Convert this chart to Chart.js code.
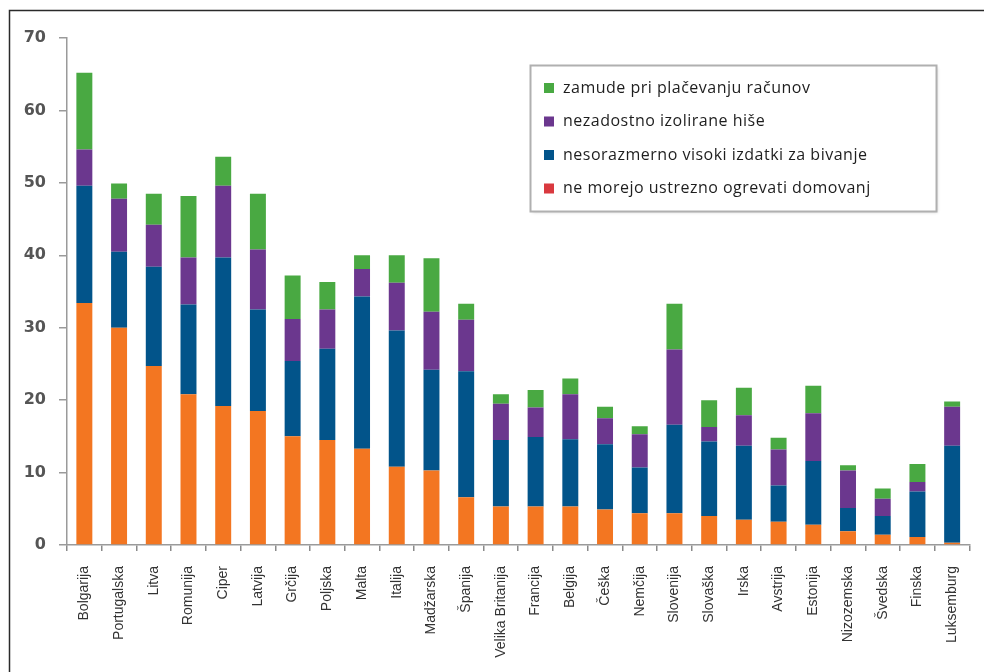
<!DOCTYPE html>
<html>
<head>
<meta charset="utf-8">
<script src="https://cdn.jsdelivr.net/npm/chart.js@4/dist/chart.umd.min.js"></script>
<style>
  html, body { margin: 0; padding: 0; background: #fff; }
  #wrap { position: relative; width: 984px; height: 672px; }
</style>
</head>
<body>
<div id="wrap"><canvas id="c" width="984" height="672"></canvas></div>
<script>
// Države (kategorije na osi x)
const drzave = ['Bolgarija', 'Portugalska', 'Litva', 'Romunija', 'Ciper', 'Latvija', 'Grčija',
  'Poljska', 'Malta', 'Italija', 'Madžarska', 'Španija', 'Velika Britanija', 'Francija',
  'Belgija', 'Češka', 'Nemčija', 'Slovenija', 'Slovaška', 'Irska', 'Avstrija', 'Estonija',
  'Nizozemska', 'Švedska', 'Finska', 'Luksemburg'];

// Deleži gospodinjstev (%), zloženi od spodaj navzgor
const neOgrevajo = [33.4, 30.0, 24.7, 20.8, 19.2, 18.5, 15.0, 14.5, 13.3, 10.8, 10.3, 6.6, 5.3,
  5.3, 5.3, 4.9, 4.4, 4.4, 4.0, 3.5, 3.2, 2.8, 1.9, 1.4, 1.1, 0.3];
const visokiIzdatki = [16.2, 10.5, 13.7, 12.4, 20.5, 14.0, 10.4, 12.6, 21.0, 18.8, 13.9, 17.4, 9.2,
  9.6, 9.3, 9.0, 6.3, 12.2, 10.3, 10.2, 5.0, 8.8, 3.2, 2.6, 6.3, 13.4];
const slaboIzolirane = [5.0, 7.3, 5.8, 6.5, 9.9, 8.3, 5.8, 5.4, 3.8, 6.6, 8.0, 7.1, 5.0,
  4.1, 6.2, 3.6, 4.6, 10.4, 2.0, 4.2, 5.0, 6.6, 5.2, 2.4, 1.3, 5.4];
const zamudePlacil = [10.6, 2.1, 4.3, 8.5, 4.0, 7.7, 6.0, 3.8, 1.9, 3.8, 7.4, 2.2, 1.3,
  2.4, 2.2, 1.6, 1.1, 6.3, 3.7, 3.8, 1.6, 3.8, 0.7, 1.4, 2.5, 0.7];

// Oznake serij
const oznake = ['ne morejo ustrezno ogrevati domovanj', 'nesorazmerno visoki izdatki za bivanje',
  'nezadostno izolirane hiše', 'zamude pri plačevanju računov'];

// Oznake na osi y
const yOznake = [0, 10, 20, 30, 40, 50, 60, 70];

const barve = ['#f37621', '#02548a', '#6b378e', '#49a942'];
const barveLegende = ['#d9393f', '#02548a', '#6b378e', '#49a942'];

// Okvir slike in legenda v pravokotniku
const okvirInLegenda = {
  id: 'okvirInLegenda',
  afterDraw(chart) {
    const ctx = chart.ctx;
    ctx.save();
    ctx.strokeStyle = '#2a2a2a';
    ctx.lineWidth = 1.5;
    ctx.strokeRect(9.5, 10.5, 1010, 700);

    const bx = 530.5, by = 65.5, bw = 406, bh = 146;
    ctx.shadowColor = 'rgba(0,0,0,0.18)';
    ctx.shadowBlur = 3;
    ctx.shadowOffsetX = 1;
    ctx.shadowOffsetY = 1;
    ctx.fillStyle = '#fff';
    ctx.fillRect(bx, by, bw, bh);
    ctx.shadowColor = 'transparent';
    ctx.strokeStyle = '#b0b0b0';
    ctx.lineWidth = 2;
    ctx.strokeRect(bx, by, bw, bh);

    ctx.font = '16px "Open Sans", sans-serif';
    if ('letterSpacing' in ctx) ctx.letterSpacing = '0.5px';
    ctx.textBaseline = 'middle';
    ctx.textAlign = 'left';
    const n = chart.data.datasets.length;
    for (let i = 0; i < n; i++) {
      const di = n - 1 - i;
      const y = 88 + i * 33.5;
      ctx.fillStyle = barveLegende[di];
      ctx.fillRect(544, y - 5, 10, 10);
      ctx.fillStyle = '#1e1e1e';
      ctx.fillText(chart.data.datasets[di].label, 563, y);
    }
    ctx.restore();
  }
};

const serije = [neOgrevajo, visokiIzdatki, slaboIzolirane, zamudePlacil];

new Chart(document.getElementById('c'), {
  type: 'bar',
  data: {
    labels: drzave,
    datasets: serije.map((vrednosti, i) => ({
      label: oznake[i],
      data: vrednosti,
      backgroundColor: barve[i],
      borderWidth: 0,
      categoryPercentage: 1.0,
      barPercentage: 0.46
    }))
  },
  options: {
    responsive: false,
    animation: false,
    devicePixelRatio: 1,
    layout: { padding: { top: 38, right: 3, left: 2, bottom: 0 } },
    plugins: {
      legend: { display: false },
      tooltip: { enabled: false }
    },
    scales: {
      x: {
        stacked: true,
        afterFit(scale) { scale.height = 127; },
        grid: {
          display: true,
          offset: true,
          drawOnChartArea: false,
          drawTicks: true,
          tickLength: 6,
          color: '#8a8a8a',
          lineWidth: 1.5
        },
        border: { display: true, color: '#9a9a9a', width: 1.5 },
        ticks: {
          autoSkip: false,
          minRotation: 90,
          maxRotation: 90,
          padding: 15,
          color: '#333',
          font: { family: '"Liberation Sans", Arial, sans-serif', size: 14 }
        }
      },
      y: {
        stacked: true,
        min: 0,
        max: 70,
        afterFit(scale) { scale.width = 65; },
        afterBuildTicks(scale) { scale.ticks = yOznake.map(v => ({ value: v })); },
        grid: {
          display: true,
          drawOnChartArea: false,
          drawTicks: true,
          tickLength: 8,
          color: '#9a9a9a',
          lineWidth: 1.5
        },
        border: { display: true, color: '#9a9a9a', width: 1.5 },
        ticks: {
          padding: 13,
          color: '#555',
          font: { family: '"DejaVu Sans", sans-serif', size: 16, weight: 'bold' }
        }
      }
    }
  },
  plugins: [okvirInLegenda]
});
</script>
</body>
</html>
